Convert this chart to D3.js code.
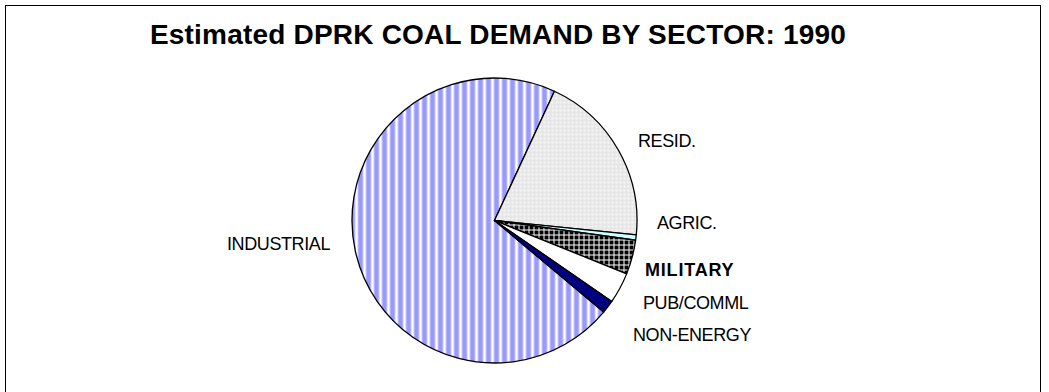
<!DOCTYPE html>
<html>
<head>
<meta charset="utf-8">
<script src="https://cdn.jsdelivr.net/npm/d3@7"></script>
<style>
  body { margin: 0; background: #fff; }
  svg { display: block; font-family: "Liberation Sans", Arial, sans-serif; }
</style>
</head>
<body>
<svg id="viz"></svg>
<script>
const width = 1049;
const height = 392;

// data (share of 1990 coal demand, %)
const sectors = ["INDUSTRIAL", "RESID.", "AGRIC.", "MILITARY", "PUB/COMML", "NON-ENERGY"];
const shares = [70.8, 19.7, 0.6, 3.9, 3.5, 1.5];
const fills = ["url(#stripes)", "url(#dots)", "#ccffff", "url(#hatch)", "#ffffff", "#000080"];

const cx = 494.5, cy = 220.5, r = 142.5;
const startDeg = 130;

const svg = d3.select("#viz")
  .attr("width", width)
  .attr("height", height)
  .attr("viewBox", [0, 0, width, height]);

// patterns
const defs = svg.append("defs");
const st = defs.append("pattern").attr("id", "stripes")
  .attr("patternUnits", "userSpaceOnUse").attr("width", 8).attr("height", 8);
st.append("rect").attr("width", 8).attr("height", 8).attr("fill", "#ffffff");
st.append("rect").attr("x", 0).attr("width", 4).attr("height", 8).attr("fill", "#9999ff");
st.append("rect").attr("x", 4).attr("width", 1).attr("height", 8).attr("fill", "#c8c8ff");
st.append("rect").attr("x", 7).attr("width", 1).attr("height", 8).attr("fill", "#c8c8ff");

const dt = defs.append("pattern").attr("id", "dots")
  .attr("patternUnits", "userSpaceOnUse").attr("width", 4).attr("height", 4);
dt.append("rect").attr("width", 4).attr("height", 4).attr("fill", "#e6e6e6");
dt.append("rect").attr("x", 1).attr("y", 1).attr("width", 2).attr("height", 2).attr("fill", "#f6f6f6");

const ht = defs.append("pattern").attr("id", "hatch")
  .attr("patternUnits", "userSpaceOnUse").attr("width", 5).attr("height", 5);
ht.append("rect").attr("width", 5).attr("height", 5).attr("fill", "#000");
ht.append("rect").attr("x", 4).attr("width", 1).attr("height", 5).attr("fill", "#fff");
ht.append("rect").attr("y", 4).attr("width", 5).attr("height", 1).attr("fill", "#fff");

// frame
svg.append("rect")
  .attr("x", 5.5).attr("y", 5.5)
  .attr("width", 1035).attr("height", 400)
  .attr("fill", "none").attr("stroke", "#000").attr("stroke-width", 1);

svg.append("text")
  .attr("x", 498).attr("y", 44)
  .attr("text-anchor", "middle")
  .attr("font-size", 28).attr("font-weight", "bold")
  .attr("letter-spacing", 0.2)
  .text("Estimated DPRK COAL DEMAND BY SECTOR: 1990");

const data = sectors.map((s, i) => ({ sector: s, value: shares[i], fill: fills[i] }));

const pie = d3.pie().sort(null).value(d => d.value)
  .startAngle(startDeg * Math.PI / 180)
  .endAngle(startDeg * Math.PI / 180 + 2 * Math.PI);

const arc = d3.arc().innerRadius(0).outerRadius(r);

const g = svg.append("g").attr("transform", `translate(${cx},${cy})`);
g.selectAll("path")
  .data(pie(data))
  .join("path")
  .attr("d", arc)
  .attr("fill", d => d.data.fill)
  .attr("stroke", "#000")
  .attr("stroke-width", 1.3)
  .attr("stroke-linejoin", "round");

// labels
const labelPos = {
  "INDUSTRIAL": [227, 250],
  "RESID.": [638, 147],
  "AGRIC.": [657, 229],
  "MILITARY": [645, 276],
  "PUB/COMML": [643, 309],
  "NON-ENERGY": [633, 341]
};

svg.append("g").selectAll("text")
  .data(data)
  .join("text")
  .attr("x", d => labelPos[d.sector][0])
  .attr("y", d => labelPos[d.sector][1])
  .attr("font-size", 18)
  .attr("font-weight", d => d.sector === "MILITARY" ? "bold" : "normal")
  .attr("letter-spacing", d => d.sector === "MILITARY" ? 0.8 : -0.4)
  .text(d => d.sector);
</script>
</body>
</html>
